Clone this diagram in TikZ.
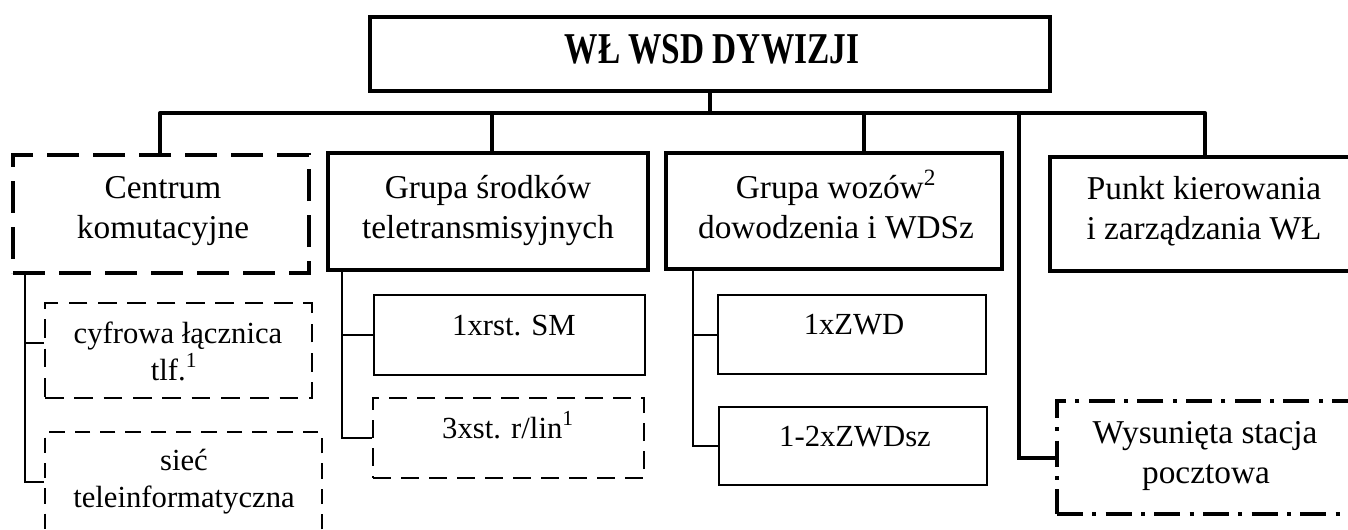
\documentclass[tikz,border=0pt]{standalone}
\usepackage{fontspec}
\setmainfont{Liberation Serif}
\usetikzlibrary{fit}
\begin{document}
\begin{tikzpicture}[x=0.75pt,y=-0.75pt,
  bigbox/.style={draw, rectangle, line width=3pt, inner sep=0pt},
  subbox/.style={draw, rectangle, line width=1.5pt, inner sep=0pt},
  cenbox/.style={draw, rectangle, line width=3.4pt, inner sep=0pt, dash pattern=on 24pt off 10.5pt},
  cyfbox/.style={draw, rectangle, line width=2.2pt, inner sep=0pt, dash pattern=on 14pt off 8pt},
  siebox/.style={draw, rectangle, line width=1.9pt, inner sep=0pt, dash pattern=on 11.5pt off 7.5pt},
  stbox/.style={draw, rectangle, line width=1.9pt, inner sep=0pt, dash pattern=on 13.5pt off 7.5pt},
  wbox/.style={draw, rectangle, line width=3pt, inner sep=0pt, dash pattern=on 19.5pt off 7pt on 3pt off 7pt},
  thickline/.style={line width=3pt},
  thinline/.style={line width=1.5pt},
  lbl/.style={font=\fontsize{25}{30}\selectfont, anchor=base, inner sep=0pt},
  sublbl/.style={font=\fontsize{23}{28}\selectfont, anchor=base, inner sep=0pt},
  ttl/.style={font=\fontsize{25}{30}\selectfont\bfseries, anchor=base, inner sep=0pt}
]
\useasboundingbox (0,0) rectangle (1348,529);
\clip (0,0) rectangle (1348,529);

% top box
\node[bigbox, fit={(370,17) (1050,91)}] (top) {};
\node[ttl] (ttltxt) at (712,63) {\scalebox{1}[1.32]{WŁ WSD DYWIZJI}};

% first level
\node[cenbox, fit={(13,155) (309,273)}] (cen) {};
\node[lbl] (cen1) at (163,198) {Centrum};
\node[lbl] (cen2) at (163,238) {komutacyjne};

\node[bigbox, fit={(328,153) (648,270)}] (gs) {};
\node[lbl] (gs1) at (488,198) {Grupa środków};
\node[lbl] (gs2) at (488,238) {teletransmisyjnych};

\node[bigbox, fit={(666,153) (1002,269)}] (gw) {};
\node[lbl] (gw1) at (836,198) {Grupa wozów\textsuperscript{2}};
\node[lbl] (gw2) at (836,238) {dowodzenia i WDSz};

\node[bigbox, fit={(1050,157) (1370,271)}] (pk) {};
\node[lbl] (pk1) at (1204,199) {Punkt kierowania};
\node[lbl] (pk2) at (1204,239) {i zarządzania WŁ};

% second level
\node[cyfbox, fit={(45,303) (312,398)}] (cyf) {};
\node[sublbl] (cyf1) at (178,343) {cyfrowa łącznica};
\node[sublbl] (cyf2) at (174,380) {tlf.\textsuperscript{1}};

\node[siebox, fit={(45,432) (322,531)}] (sie) {};
\node[sublbl] (sie1) at (184,470) {sieć};
\node[sublbl] (sie2) at (184,507) {teleinformatyczna};

\node[subbox, fit={(374,295) (645,375)}] (rs) {};
\node[sublbl] (rs1) at (514,335) {1xrst. SM};

\node[stbox, fit={(373,398) (644,478)}] (st) {};
\node[sublbl] (st1) at (508,438) {3xst. r/lin\textsuperscript{1}};

\node[subbox, fit={(718,295) (986,374)}] (zwd) {};
\node[sublbl] (zwd1) at (854,334) {1xZWD};

\node[subbox, fit={(719,407) (987,485)}] (zwds) {};
\node[sublbl] (zwds1) at (855,446) {1-2xZWDsz};

\node[wbox, fit={(1057,401) (1370,514)}] (wsp) {};
\node[lbl] (wsp1) at (1205,443) {Wysunięta stacja};
\node[lbl] (wsp2) at (1206,483) {pocztowa};

% bus
\coordinate (busL) at (160,113);
\coordinate (busR) at (1205,113);
\coordinate (b2) at (492,113);
\coordinate (b3) at (864,113);
\coordinate (b4) at (1019,113);
\draw[thickline, line cap=round] (busL) -- (busR);
\draw[thickline] (top.south) -- (top.south |- busL);
\draw[thickline] (busL) -- (busL |- cen.north);
\draw[thickline] (b2) -- (b2 |- gs.north);
\draw[thickline] (b3) -- (b3 |- gw.north);
\draw[thickline] (busR) -- (busR |- pk.north);
\draw[thickline] (b4) |- (wsp.west);

% sub connectors
\coordinate (cx) at (25,343);
\draw[thinline] (cen.south -| cx) |- (sie.west);
\draw[thinline] (cx) -- (cx -| cyf.west);
\coordinate (gx) at (342,0);
\draw[thinline] (gs.south -| gx) |- (st.west);
\draw[thinline] (gx |- rs.west) -- (rs.west);
\coordinate (wx) at (693,0);
\draw[thinline] (gw.south -| wx) |- (zwds.west);
\draw[thinline] (wx |- zwd.west) -- (zwd.west);
\end{tikzpicture}
\end{document}
